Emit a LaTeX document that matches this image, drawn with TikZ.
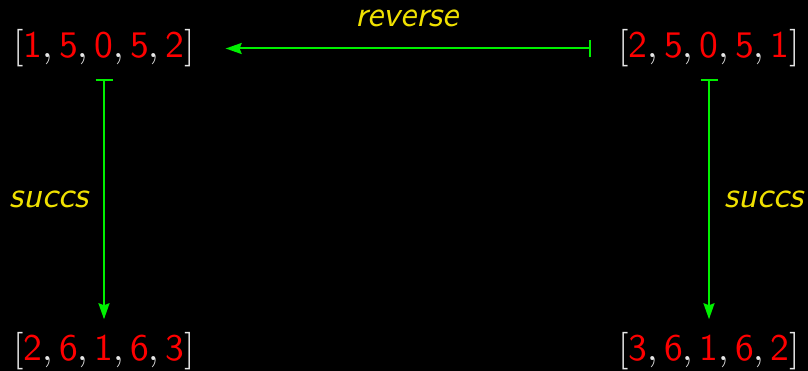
\documentclass[tikz,border=0pt]{standalone}
\usepackage{fontspec}
\newfontfamily\lmrten{lmroman10-regular.otf}
\newfontfamily\lmsten{lmsans10-regular.otf}[ItalicFont=lmsans10-oblique.otf]
\usetikzlibrary{arrows.meta}
\definecolor{lblyellow}{RGB}{240,225,0}
\definecolor{arrgreen}{RGB}{0,240,0}
\definecolor{digred}{RGB}{255,0,0}
\definecolor{brk}{RGB}{230,230,230}
\newcommand{\dg}[1]{{\lmsten\color{digred}#1}}
\newcommand{\cm}{{\lmrten,}\kern6.25pt}
\newcommand{\arrlist}[5]{{\lmrten[}\dg{#1}\cm\dg{#2}\cm\dg{#3}\cm\dg{#4}\cm\dg{#5}{\lmrten]}}
\tikzset{
  listnode/.style={inner sep=0pt, outer sep=0pt, text=brk, font=\fontsize{37.5}{40}\selectfont},
  lbl/.style={inner sep=0pt, text=lblyellow, font=\fontsize{36}{40}\selectfont\lmsten\itshape},
  conn/.style={draw=arrgreen, line width=2pt, {Bar[width=17pt]}-{Stealth[length=16pt,width=11pt,inset=2pt]}}
}
\begin{document}
\begin{tikzpicture}[x=1pt,y=-1pt]
\useasboundingbox[fill=black] (0,0) rectangle (808,371);
\node[listnode] (a) at (104,48.5) {\arrlist{1}{5}{0}{5}{2}};
\node[listnode] (b) at (709,48.5) {\arrlist{2}{5}{0}{5}{1}};
\node[listnode] (c) at (104,351) {\arrlist{2}{6}{1}{6}{3}};
\node[listnode] (d) at (709,351) {\arrlist{3}{6}{1}{6}{2}};
\draw[conn, shorten <=27pt, shorten >=31pt] (b.west) -- (a.east);
\draw[conn, shorten <=11.5pt, shorten >=13pt] (a.south) -- (c.north);
\draw[conn, shorten <=11.5pt, shorten >=13pt] (b.south) -- (d.north);
\node[lbl] (rl) at (407,18) {reverse};
\node[lbl] (sl) at (49,199) {succs};
\node[lbl] (sr) at (764,199) {succs};
\end{tikzpicture}
\end{document}
